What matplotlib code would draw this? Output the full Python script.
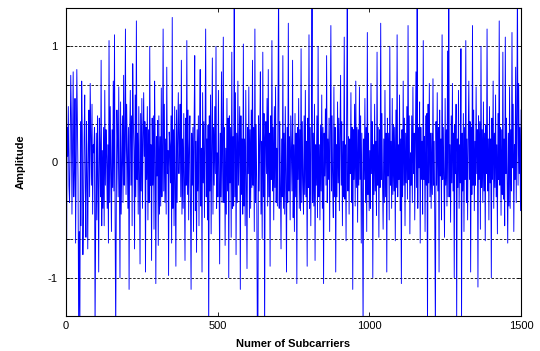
import matplotlib
matplotlib.use('Agg')
import matplotlib.pyplot as plt
import numpy as np

# amplitude per subcarrier (hundredths), every 2nd subcarrier
amplitude_cents = [
    45, -110, 30, 5, 48, -20, -35, 12, 75, 40, -45, 20, 78, -30, -5, 55, -70, 10, 80, 35, -15, -140, -60, -150, 35, -55, 70, 25, -80, -40,
    20, 58, -25, -65, 35, -10, -75, 15, 45, -30, 68, 22, -20, 50, -45, 15, 8, 30, -145, -60, 25, -50, 40, -15, -95, 38, 12, -30, 88, -55,
    10, -40, 30, -55, 62, -20, 28, 5, -40, 15, -70, 105, -35, 48, -10, -60, 28, -22, 70, -25, 110, -50, -150, -30, 45, 18, -30, 65, -15, -100,
    52, -45, -5, 40, -35, 75, -20, 18, 115, -28, 50, 10, -40, 30, -110, 22, 62, -20, 40, -55, 85, 35, 10, -75, 58, -30, 122, -15, 25, -45,
    48, -10, -88, 42, -25, 55, -40, 20, 60, 5, 35, -95, 30, -15, 48, -50, 28, -35, 100, -20, 15, -85, 38, -20, 40, -58, 70, 12, -105, 22,
    -12, 36, -72, 40, -45, 22, -38, 64, -30, 8, 115, -25, 50, -35, 20, -45, 82, -10, 10, -98, 26, 15, -18, 40, -70, 125, -40, 28, -55, 48,
    -22, -90, 45, -35, 25, 60, -10, 15, 50, -30, 88, -45, 20, -40, 42, -15, -85, 38, -20, 105, -28, 45, -50, 12, 40, -35, -110, 25, -20, 30,
    -60, 35, 92, -42, 18, -78, 28, -25, 40, -55, 25, 80, -38, 12, -95, 60, -18, 35, -48, 20, 115, -30, 20, -50, 32, -150, 40, -25, 58, -62,
    15, 90, -45, 30, -20, 48, -10, 100, -40, 8, -30, 62, -15, -88, 25, -30, 78, -35, 20, 108, -35, 30, -72, 12, -45, 55, -25, 38, -100, 40,
    -18, 30, -65, 95, -40, 22, -38, 150, -30, 60, -80, 25, -35, 70, -20, 15, 48, -110, 40, -28, 20, -45, 102, -38, 20, -55, 62, -15, -92, 30,
    -10, 65, -48, 28, -40, 45, -22, 88, -20, 30, -60, 115, -35, 32, -18, -148, -140, 40, -25, 20, 78, -45, 18, -66, 95, -30, 42, -152, 20, 35,
    -10, 55, -38, 80, -30, 25, -90, 40, -15, 105, -25, 30, -50, 48, -22, 65, -35, 12, -38, 50, 160, -40, 35, -20, -75, 20, -30, 92, -40, 25,
    -45, 48, -12, -95, 30, -35, 120, -25, 22, -50, 40, 8, -25, 88, -48, 15, -60, 42, -30, 25, -105, 30, -15, 55, -40, 28, -42, 98, -35, 35,
    -20, -45, 40, -28, 62, -30, 18, -90, 38, -22, 110, -40, 30, -55, 25, 145, -35, 25, -38, 50, -85, 15, -20, 40, -48, 100, -30, 15, -50, 32,
    -25, 58, -40, 30, -105, 25, -12, 46, -20, 92, -35, 20, -15, 38, -60, 28, 118, -25, 40, -20, -48, 65, -30, 30, -95, 15, -30, 52, -18, 38,
    -42, 25, 75, -20, 35, -55, 18, -30, 108, -32, 15, -68, 40, 150, -25, 22, -45, 20, -10, 60, -35, 30, -110, 28, -15, 50, -38, 70, -22, 30,
    -52, 28, -20, 65, -15, 40, -70, 25, -30, -145, 20, -15, 55, -35, 30, -60, 112, -28, 25, -42, 10, -40, 68, -10, 35, -100, 15, -28, 50, -25,
    18, -46, 95, -20, 30, -65, 28, -22, 120, -15, 42, -18, -58, 20, -35, 62, -30, 25, -95, 38, -12, 25, -50, 100, -20, 18, -40, 55, -28, 32,
    -25, 30, -68, 45, -22, 110, -30, 15, -15, 58, -42, 20, -105, 28, -30, 70, -20, 38, -55, 25, -18, 48, -32, 118, -15, 40, -62, 8, -20, 40,
    -35, 65, -10, 25, -50, 20, 78, -22, 152, -40, 30, -5, 52, -70, 30, -15, 18, -45, 105, -15, 22, -60, 40, -20, 42, -148, 50, -18, 68, -30,
    25, -40, 25, -28, 72, -20, 18, -55, -150, 35, -20, 60, -25, 30, -95, 45, -12, 20, -50, 110, -15, 30, -22, -65, 55, -20, 28, -38, 96, -30,
    155, -30, 15, -52, 40, -18, 68, -25, 25, -100, 32, -10, 50, -140, 20, -22, 62, -40, 15, -18, 98, -145, 25, -25, 42, -60, 30, -15, 105, -35,
    20, -50, 22, 70, -15, 35, -95, 30, -28, 118, -20, 45, -42, 18, -20, 65, -10, 28, -108, 40, -15, 35, -58, 100, -22, 28, -35, 52, -25, 25,
    -68, 32, -10, 115, -25, 20, -50, 48, -18, 20, -100, 38, -15, 70, -40, 25, -22, 58, -30, 15, -62, 42, -15, 122, -20, 30, -46, 28, -28, 95,
    -32, 20, -55, 108, -10, 38, -20, -70, 25, -38, 65, -40, 28, -25, 112, -5, 50, -60, 15, -15, 82, -35, 40, 160, -20, 68, -10, 30, -42, 45,
]
x_ticks = [0, 500, 1000, 1500]
y_labels = ['-1', '', '', '0', '', '', '1']

amplitude = np.array(amplitude_cents) / 100.0
subcarrier = np.linspace(0, 1500, len(amplitude))

plt.rcParams['font.family'] = ['Liberation Sans', 'DejaVu Sans']

fig = plt.figure(figsize=(5.4, 3.51), dpi=100)
ax = fig.add_axes([0.122, 0.0997, 0.843, 0.877])

ax.plot(subcarrier, amplitude, color='#0000ff', linewidth=0.65)

ax.set_xlim(0, 1500)
ax.set_ylim(-1.33, 1.33)
ax.set_xticks(x_ticks)
ax.set_yticks(np.arange(-3, 4) / 3.0)
ax.set_yticklabels(y_labels)
ax.tick_params(direction='in', top=True, right=True, labelsize=8, length=3, width=0.6)
ax.tick_params(axis='y', pad=6)
ax.yaxis.grid(True, color='black', linestyle=(0, (3, 2)), linewidth=0.6)

for spine in ax.spines.values():
    spine.set_linewidth(0.8)

ax.set_xlabel('Numer of Subcarriers', fontsize=8, fontweight='bold', labelpad=6)
ax.set_ylabel('Amplitude', fontsize=8, fontweight='bold', labelpad=16)

fig.savefig('out.png', dpi=100)
